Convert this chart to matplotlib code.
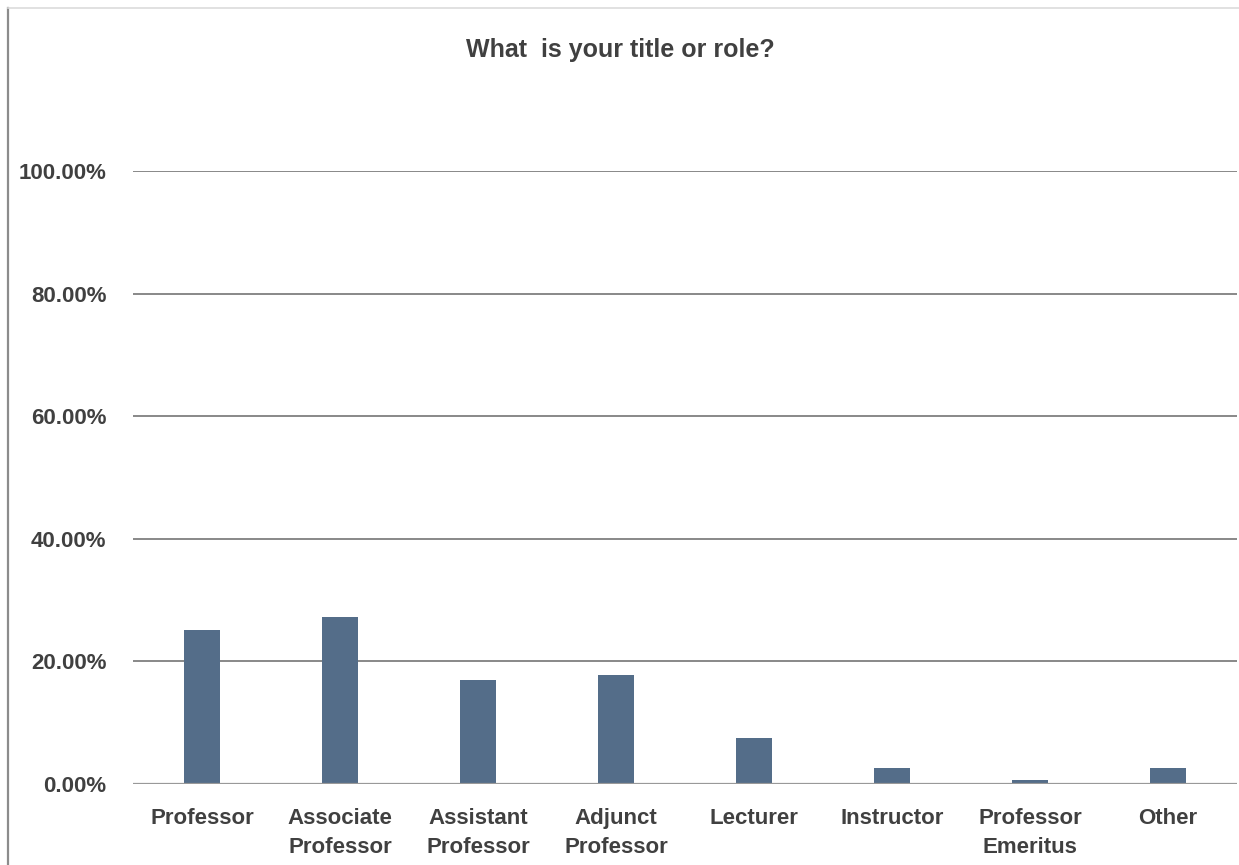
import matplotlib
matplotlib.use("Agg")
import matplotlib.pyplot as plt
from matplotlib.lines import Line2D
from matplotlib.ticker import FuncFormatter

categories = ["Professor", "Associate\nProfessor", "Assistant\nProfessor",
              "Adjunct\nProfessor", "Lecturer", "Instructor",
              "Professor\nEmeritus", "Other"]
shares = [0.252, 0.272, 0.170, 0.177, 0.075, 0.026, 0.0066, 0.026]
y_ticks = [0.0, 0.2, 0.4, 0.6, 0.8, 1.0]
title = "What  is your title or role?"

plt.rcParams["font.family"] = ["Liberation Sans", "DejaVu Sans"]
plt.rcParams["font.weight"] = "bold"

W, H = 1239, 865
fig = plt.figure(figsize=(W / 100, H / 100), dpi=100)
fig.patch.set_facecolor("white")

x0, x1 = 133, 1237
y0, y1 = 784, 171
ax = fig.add_axes([x0 / W, (H - y0) / H, (x1 - x0) / W, (y0 - y1) / H])

xs = range(len(categories))
ax.bar(xs, shares, width=0.26, color="#546D89", zorder=3)

ax.set_xlim(-0.5, len(categories) - 0.5)
ax.set_ylim(0, 1.0)
ax.set_yticks(y_ticks)
ax.yaxis.set_major_formatter(FuncFormatter(lambda v, p: f"{v * 100:.2f}%"))
ax.set_xticks(list(xs))
ax.set_xticklabels(categories, linespacing=1.5)

for v in y_ticks[1:]:
    ax.axhline(v, color="#7f7f7f", linewidth=1.3, zorder=1)
ax.axhline(0, color="#999999", linewidth=1.6, zorder=4)

for s in ax.spines.values():
    s.set_visible(False)
ax.tick_params(axis="both", length=0, labelcolor="#404040")
ax.tick_params(axis="y", pad=19, labelsize=16)
ax.tick_params(axis="x", pad=17, labelsize=16)

fig.text(620 / W, 1 - 50 / H, title, ha="center", va="center",
         fontsize=18, fontweight="bold", color="#404040")

# outer frame edges
fig.add_artist(Line2D([8 / W, 8 / W], [0, 1 - 8 / H], transform=fig.transFigure,
                      color="#8c8c8c", linewidth=1.6))
fig.add_artist(Line2D([8 / W, 1], [1 - 8 / H, 1 - 8 / H], transform=fig.transFigure,
                      color="#dcdcdc", linewidth=1.2))

fig.savefig("out.png", dpi=100, facecolor="white")
